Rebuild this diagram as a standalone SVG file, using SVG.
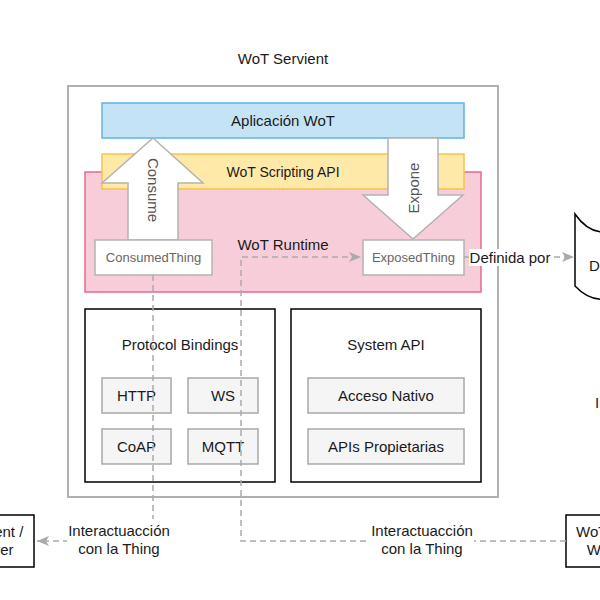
<svg xmlns="http://www.w3.org/2000/svg" width="600" height="600" viewBox="0 0 600 600">
<style>
text{font-family:"Liberation Sans",Arial,sans-serif;font-size:15px;fill:#1a1a1a;text-anchor:middle;dominant-baseline:central}
.gray{fill:#666;font-size:13px}
.arrowtxt{fill:#555}
.small{fill:#f5f5f5;stroke:#a8a8a8;stroke-width:1.5}
.black{fill:#fff;stroke:#000;stroke-width:1.5}
.conn{fill:none;stroke:#aaa;stroke-width:1.5;stroke-dasharray:6 4}
.lbl{fill:#fff;stroke:none}
</style>
<defs>
<marker id="arr" markerUnits="userSpaceOnUse" markerWidth="13" markerHeight="11" refX="12" refY="5" orient="auto" viewBox="0 0 13 10">
<path d="M0,0 L12,5 L0,10 L3,5 Z" fill="#aaa"/>
</marker>
</defs>
<rect width="600" height="600" fill="#fff"/>

<g id="servient">
<text x="283" y="58">WoT Servient</text>
<rect x="68" y="86" width="430" height="411" fill="#fff" stroke="#b0b0b0" stroke-width="2"/>
</g>
<g id="aplicacion">
<rect x="102" y="103" width="362" height="35" fill="#c4e4f6" stroke="#62b2e6" stroke-width="1.5"/>
<text x="283" y="120.5">Aplicación WoT</text>
</g>
<g id="runtime">
<rect x="85" y="172" width="396" height="120" fill="#f8cdda" stroke="#e66a8e" stroke-width="1.5"/>
<text x="283" y="244">WoT Runtime</text>
</g>
<g id="scripting">
<rect x="102" y="154" width="362" height="35" fill="#ffe9a8" stroke="#f5c34a" stroke-width="1.5"/>
<text x="283" y="171.5" style="font-size:14px">WoT Scripting API</text>
</g>
<g id="consume">
<polygon points="153,138 203,183 178,183 178,240 128,240 128,183 102,183" fill="#fff" stroke="#b3b3b3" stroke-width="1.5"/>
<text class="arrowtxt" transform="translate(153,190) rotate(90)">Consume</text>
</g>
<g id="expone">
<polygon points="388,138 438,138 438,195 463,195 413,239 363,195 388,195" fill="#fff" stroke="#b3b3b3" stroke-width="1.5"/>
<text class="arrowtxt" transform="translate(413,188) rotate(-90)">Expone</text>
</g>
<g id="consumedthing">
<rect x="95" y="240" width="117" height="35" fill="#fff" stroke="#b3b3b3" stroke-width="1.5"/>
<text class="gray" x="153.5" y="257.5">ConsumedThing</text>
</g>
<g id="exposedthing">
<rect x="363" y="240" width="101" height="35" fill="#fff" stroke="#b3b3b3" stroke-width="1.5"/>
<text class="gray" x="413.5" y="257.5">ExposedThing</text>
</g>
<g id="protocol">
<rect class="black" x="85" y="309" width="190" height="173"/>
<text x="180" y="344">Protocol Bindings</text>
</g>
<g id="http"><rect class="small" x="102" y="378" width="69" height="35"/><text x="136.5" y="395.5">HTTP</text></g>
<g id="ws"><rect class="small" x="188" y="378" width="70" height="35"/><text x="223" y="395.5">WS</text></g>
<g id="coap"><rect class="small" x="102" y="429" width="69" height="35"/><text x="136.5" y="446.5">CoAP</text></g>
<g id="mqtt"><rect class="small" x="188" y="429" width="70" height="35"/><text x="223" y="446.5">MQTT</text></g>
<g id="systemapi">
<rect class="black" x="291" y="309" width="190" height="173"/>
<text x="386" y="344">System API</text>
</g>
<g id="acceso"><rect class="small" x="308" y="378" width="156" height="35"/><text x="386" y="395.5">Acceso Nativo</text></g>
<g id="apis"><rect class="small" x="308" y="429" width="156" height="35"/><text x="386" y="446.5">APIs Propietarias</text></g>

<g id="td">
<path d="M575,214 C590,236 610,236 625,225 C640,214 660,214 675,225 L675,290 C660,279 640,279 625,290 C610,304 590,302 575,286 Z" fill="#fff" stroke="#000" stroke-width="1.5"/>
<text x="589" y="265" style="text-anchor:start">Description</text>
</g>
<g id="device-label">
<text x="595" y="402" style="text-anchor:start">Interactúa</text>
</g>
<g id="client">
<rect class="black" x="-86" y="515" width="120" height="52"/>
<text x="-26" y="531">WoT Servient /</text>
<text x="-26" y="549">Web Server</text>
</g>
<g id="thing">
<rect class="black" x="566" y="515" width="104" height="52"/>
<text x="617" y="531">WoT Client /</text>
<text x="617" y="549">Web App</text>
</g>

<g id="connectors">
<path class="conn" d="M153,275 V541 H37" marker-end="url(#arr)"/>
<path class="conn" d="M566,541 H241 V257 H361" marker-end="url(#arr)"/>
<path class="conn" d="M464,257 H574" marker-end="url(#arr)"/>
<rect class="lbl" x="67" y="519" width="104" height="40"/>
<text x="119" y="530">Interactuacción</text>
<text x="119" y="548">con la Thing</text>
<rect class="lbl" x="370" y="519" width="104" height="40"/>
<text x="422" y="530">Interactuacción</text>
<text x="422" y="548">con la Thing</text>
<rect class="lbl" x="469" y="249" width="82" height="17"/>
<text x="510" y="257">Definida por</text>
</g>
</svg>
